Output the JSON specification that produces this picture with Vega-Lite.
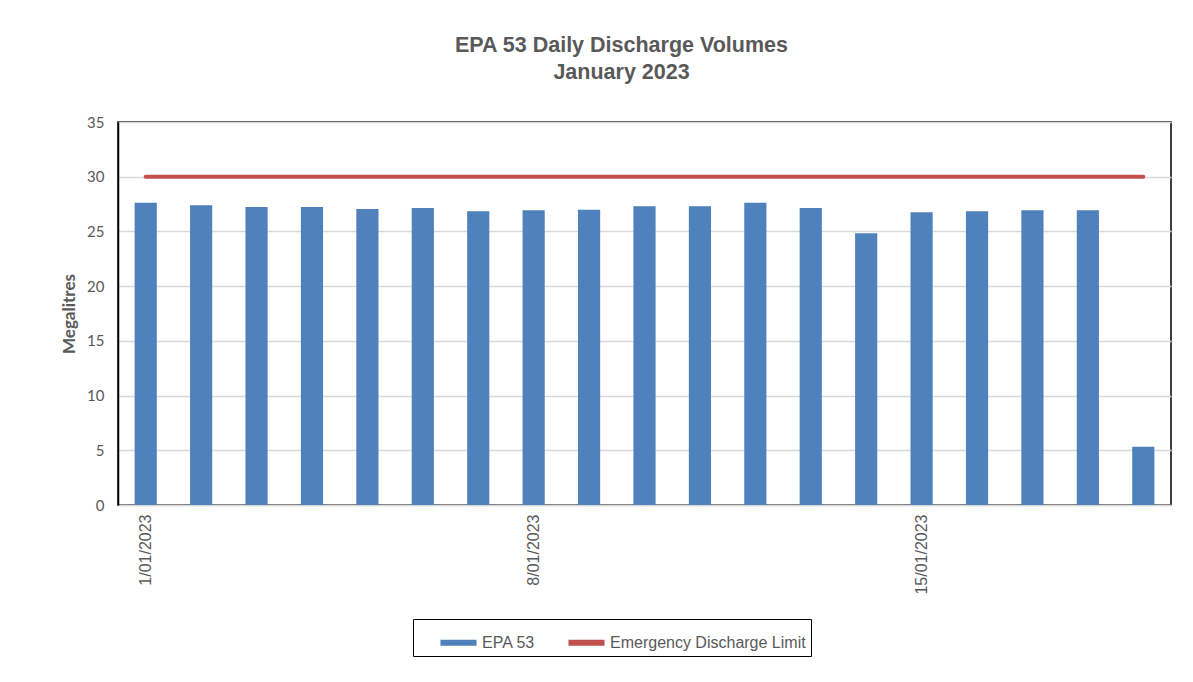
{
  "$schema": "https://vega.github.io/schema/vega-lite/v6.json",
  "autosize": "none",
  "width": 1053,
  "height": 383,
  "padding": {"left": 118, "top": 122, "right": 22, "bottom": 177},
  "background": "white",
  "config": {
    "font": "Liberation Sans",
    "view": {"stroke": "black", "strokeWidth": 1.5}
  },
  "title": {
    "text": ["EPA 53 Daily Discharge Volumes", "January 2023"],
    "fontSize": 21.5,
    "fontWeight": "bold",
    "color": "#595959",
    "anchor": "middle",
    "offset": 32,
    "dx": -23,
    "lineHeight": 27
  },
  "data": {
    "values": [
      {"date": "1/01/2023", "volume": 27.63, "limit": 30},
      {"date": "2/01/2023", "volume": 27.39, "limit": 30},
      {"date": "3/01/2023", "volume": 27.24, "limit": 30},
      {"date": "4/01/2023", "volume": 27.24, "limit": 30},
      {"date": "5/01/2023", "volume": 27.06, "limit": 30},
      {"date": "6/01/2023", "volume": 27.15, "limit": 30},
      {"date": "7/01/2023", "volume": 26.85, "limit": 30},
      {"date": "8/01/2023", "volume": 26.94, "limit": 30},
      {"date": "9/01/2023", "volume": 26.99, "limit": 30},
      {"date": "10/01/2023", "volume": 27.30, "limit": 30},
      {"date": "11/01/2023", "volume": 27.30, "limit": 30},
      {"date": "12/01/2023", "volume": 27.63, "limit": 30},
      {"date": "13/01/2023", "volume": 27.15, "limit": 30},
      {"date": "14/01/2023", "volume": 24.83, "limit": 30},
      {"date": "15/01/2023", "volume": 26.75, "limit": 30},
      {"date": "16/01/2023", "volume": 26.85, "limit": 30},
      {"date": "17/01/2023", "volume": 26.94, "limit": 30},
      {"date": "18/01/2023", "volume": 26.94, "limit": 30},
      {"date": "19/01/2023", "volume": 5.33, "limit": 30}
    ]
  },
  "encoding": {
    "x": {
      "field": "date",
      "type": "ordinal",
      "sort": null,
      "scale": {"paddingInner": 0.6, "paddingOuter": 0.3},
      "axis": {
        "title": null,
        "values": ["1/01/2023", "8/01/2023", "15/01/2023"],
        "labelAngle": 270,
        "labelAlign": "right",
        "labelBaseline": "middle",
        "labelFontSize": 16,
        "labelColor": "#595959",
        "labelPadding": 9,
        "ticks": false,
        "domainColor": "#d9d9d9",
        "domainWidth": 1.5
      }
    }
  },
  "layer": [
    {
      "mark": {"type": "bar"},
      "encoding": {
        "y": {
          "field": "volume",
          "type": "quantitative",
          "scale": {"domain": [0, 35]},
          "axis": {
            "title": "Megalitres",
            "titleFont": "Lato",
            "titleFontSize": 17,
            "titleFontWeight": "bold",
            "titleColor": "#595959",
            "titlePadding": 8,
            "values": [0, 5, 10, 15, 20, 25, 30, 35],
            "labelFont": "Lato",
            "labelFontSize": 15,
            "labelColor": "#595959",
            "labelPadding": 14,
            "ticks": false,
            "domainColor": "black",
            "domainWidth": 1.5,
            "gridColor": "#d9d9d9",
            "gridWidth": 1.5
          }
        },
        "color": {
          "datum": "EPA 53",
          "type": "nominal",
          "scale": {
            "domain": ["EPA 53", "Emergency Discharge Limit"],
            "range": ["#4F81BD", "#C0504D"]
          },
          "legend": {
            "title": null,
            "orient": "none",
            "direction": "horizontal",
            "legendX": 295,
            "legendY": 497,
            "strokeColor": "black",
            "padding": 5,
            "labelFontSize": 16,
            "labelLimit": 400,
            "labelColor": "#595959",
            "columnPadding": 10,
            "symbolOffset": 22,
            "symbolType": "M-1,-0.17H1V0.17H-1Z",
            "symbolSize": 1300,
            "symbolStrokeWidth": 0,
            "labelOffset": 5,
            "encode": {
              "symbols": {"update": {"fill": {"scale": "color", "field": "value"}, "stroke": {"value": "transparent"}}}
            }
          }
        }
      }
    },
    {
      "mark": {"type": "line", "strokeWidth": 4, "strokeCap": "round"},
      "encoding": {
        "y": {"field": "limit", "type": "quantitative"},
        "color": {"datum": "Emergency Discharge Limit", "type": "nominal"}
      }
    }
  ]
}
